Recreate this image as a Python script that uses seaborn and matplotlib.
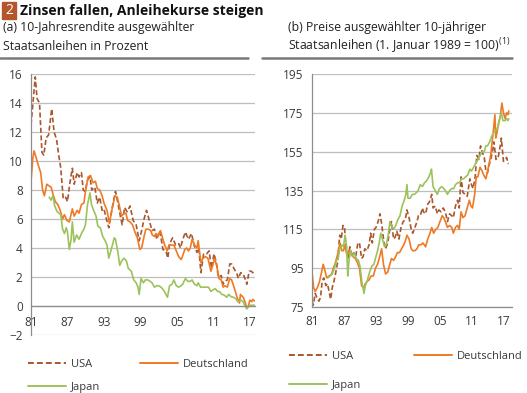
import pandas as pd
import matplotlib.pyplot as plt
import seaborn as sns
from matplotlib.lines import Line2D
from matplotlib.patches import Rectangle

sns.set_style("white")
plt.rcParams['font.family'] = ['Open Sans', 'DejaVu Sans']
plt.rcParams['mathtext.fontset'] = 'custom'
plt.rcParams['mathtext.rm'] = 'Open Sans'

# --- (a) Rendite 10-jaehriger Staatsanleihen, Prozent ---
usa_r_jahr = [1981.0, 1981.3, 1981.7, 1982.0, 1982.4, 1982.8, 1983.1, 1983.5, 1983.9, 1984.4,
              1984.8, 1985.2, 1985.6, 1985.9, 1986.3, 1986.7, 1987.0, 1987.4, 1987.8, 1988.1,
              1988.6, 1988.9, 1989.3, 1989.6, 1989.9, 1990.3, 1990.7, 1991.0, 1991.5, 1991.9,
              1992.3, 1992.7, 1993.0, 1993.4, 1993.8, 1994.2, 1994.6, 1994.9, 1995.3, 1995.7,
              1996.0, 1996.4, 1996.8, 1997.3, 1997.8, 1998.3, 1998.8, 1999.2, 1999.6, 2000.0,
              2000.4, 2000.9, 2001.3, 2001.7, 2002.2, 2002.7, 2003.2, 2003.5, 2003.8, 2004.3,
              2004.8, 2005.3, 2005.6, 2005.9, 2006.4, 2006.9, 2007.4, 2007.9, 2008.3, 2008.6,
              2008.95, 2009.4, 2009.9, 2010.3, 2010.7, 2011.1, 2011.5, 2011.8, 2012.3, 2012.6,
              2012.9, 2013.3, 2013.7, 2014.0, 2014.5, 2014.9, 2015.1, 2015.5, 2015.9, 2016.3,
              2016.5, 2016.9, 2017.2, 2017.5, 2017.75]
usa_r = [12.5, 13.9, 15.8, 14.3, 14.0, 10.6, 10.4, 11.6, 11.8, 13.6,
         12.0, 11.5, 10.3, 9.5, 7.4, 7.5, 7.2, 8.5, 9.5, 8.4,
         9.2, 8.9, 9.2, 8.0, 7.9, 8.7, 8.9, 8.0, 8.2, 7.1,
         7.5, 6.6, 6.7, 6.0, 5.4, 6.4, 7.3, 7.9, 7.1, 6.2,
         5.6, 6.8, 6.5, 6.9, 5.9, 5.6, 4.5, 5.2, 6.0, 6.6,
         6.0, 5.2, 5.3, 4.6, 5.2, 3.9, 3.8, 3.3, 4.3, 4.7,
         4.2, 4.3, 4.0, 4.5, 5.1, 4.6, 5.0, 4.1, 3.7, 4.0,
         2.3, 3.6, 3.6, 3.8, 2.6, 3.6, 3.0, 2.0, 2.1, 1.5,
         1.7, 1.8, 2.9, 2.9, 2.5, 2.2, 1.9, 2.3, 2.2, 1.8,
         1.5, 2.4, 2.4, 2.3, 2.2]

de_r_jahr = [1981.0, 1981.3, 1981.5, 1981.8, 1982.2, 1982.6, 1982.9, 1983.2, 1983.6, 1983.9,
             1984.3, 1984.7, 1985.0, 1985.4, 1985.8, 1986.2, 1986.5, 1986.9, 1987.3, 1987.8,
             1988.1, 1988.6, 1988.9, 1989.3, 1989.7, 1990.0, 1990.4, 1990.8, 1991.2, 1991.6,
             1991.9, 1992.3, 1992.7, 1993.0, 1993.5, 1993.9, 1994.3, 1994.8, 1995.2, 1995.6,
             1995.9, 1996.3, 1996.6, 1996.9, 1997.3, 1997.7, 1998.1, 1998.5, 1998.9, 1999.2,
             1999.6, 1999.9, 2000.3, 2000.7, 2000.95, 2001.3, 2001.6, 2001.9, 2002.3, 2002.7,
             2003.0, 2003.4, 2003.7, 2004.1, 2004.5, 2004.9, 2005.3, 2005.7, 2005.9, 2006.3,
             2006.6, 2006.9, 2007.2, 2007.5, 2007.9, 2008.3, 2008.5, 2008.95, 2009.3, 2009.7,
             2010.1, 2010.6, 2010.9, 2011.2, 2011.6, 2011.9, 2012.3, 2012.6, 2012.9, 2013.3,
             2013.7, 2014.0, 2014.4, 2014.9, 2015.3, 2015.45, 2015.9, 2016.2, 2016.5, 2016.8,
             2017.0, 2017.3, 2017.5, 2017.75]
de_r = [8.6, 10.2, 10.7, 10.3, 9.7, 9.2, 8.0, 7.6, 8.4, 8.3,
        8.2, 7.6, 7.2, 7.0, 6.6, 6.0, 6.3, 5.9, 5.8, 6.7,
        6.2, 6.6, 6.4, 7.0, 7.1, 8.0, 8.9, 9.0, 8.5, 8.6,
        8.1, 8.0, 7.6, 7.1, 6.6, 5.7, 6.6, 7.6, 7.5, 6.8,
        6.2, 6.4, 6.4, 5.9, 5.8, 5.6, 5.1, 4.7, 3.9, 4.0,
        4.8, 5.3, 5.3, 5.2, 4.9, 4.8, 5.0, 4.8, 5.2, 4.6,
        4.2, 3.8, 4.2, 4.2, 4.2, 3.8, 3.4, 3.2, 3.4, 3.9,
        4.0, 3.8, 4.0, 4.6, 4.2, 4.0, 4.5, 3.0, 3.3, 3.4,
        3.3, 2.4, 2.8, 3.3, 2.7, 1.9, 1.8, 1.3, 1.4, 1.3,
        1.9, 1.8, 1.3, 0.6, 0.2, 0.8, 0.6, 0.3, -0.15, 0.05,
        0.4, 0.3, 0.45, 0.35]

jp_r_jahr = [1984.0, 1984.3, 1984.6, 1984.9, 1985.3, 1985.6, 1985.9, 1986.2, 1986.5, 1986.8,
             1987.0, 1987.3, 1987.6, 1987.8, 1988.1, 1988.5, 1988.9, 1989.3, 1989.7, 1989.95,
             1990.3, 1990.7, 1990.95, 1991.3, 1991.7, 1992.0, 1992.4, 1992.8, 1993.2, 1993.5,
             1993.8, 1994.2, 1994.7, 1994.9, 1995.3, 1995.6, 1995.9, 1996.3, 1996.7, 1997.0,
             1997.5, 1997.9, 1998.3, 1998.6, 1998.8, 1999.1, 1999.5, 1999.8, 2000.2, 2000.6,
             2000.9, 2001.3, 2001.7, 2002.0, 2002.4, 2002.8, 2003.2, 2003.45, 2003.8, 2004.2,
             2004.5, 2004.9, 2005.3, 2005.7, 2005.95, 2006.4, 2006.8, 2007.2, 2007.5, 2007.9,
             2008.3, 2008.5, 2008.9, 2009.3, 2009.7, 2010.2, 2010.6, 2010.9, 2011.3, 2011.7,
             2012.0, 2012.4, 2012.8, 2013.2, 2013.5, 2013.9, 2014.3, 2014.7, 2015.0, 2015.5,
             2015.9, 2016.2, 2016.5, 2016.8, 2017.0, 2017.4, 2017.75]
jp_r = [7.5, 7.3, 7.6, 6.9, 6.5, 6.4, 6.3, 5.3, 5.0, 5.4,
        5.1, 3.9, 4.6, 5.8, 4.4, 4.9, 4.6, 5.0, 5.3, 5.6,
        7.0, 7.8, 7.0, 6.6, 6.2, 5.5, 5.4, 4.8, 4.5, 4.2,
        3.3, 3.9, 4.7, 4.6, 3.7, 2.8, 3.1, 3.3, 3.1, 2.6,
        2.4, 1.8, 1.6, 1.3, 0.8, 1.9, 1.6, 1.8, 1.8, 1.7,
        1.6, 1.3, 1.4, 1.4, 1.3, 1.1, 0.8, 0.6, 1.4, 1.5,
        1.8, 1.4, 1.3, 1.4, 1.5, 1.9, 1.7, 1.7, 1.8, 1.5,
        1.4, 1.6, 1.3, 1.3, 1.3, 1.3, 1.0, 1.1, 1.2, 1.0,
        1.0, 0.8, 0.75, 0.6, 0.8, 0.65, 0.6, 0.5, 0.3, 0.4,
        0.3, 0.0, -0.2, -0.05, 0.05, 0.05, 0.05]

# --- (b) Kursindex 10-jaehriger Staatsanleihen (1. Januar 1989 = 100) ---
usa_p_jahr = [1981.0, 1981.25, 1981.6, 1981.9, 1982.3, 1982.6, 1982.9, 1983.2, 1983.6, 1983.9,
              1984.2, 1984.5, 1984.8, 1985.1, 1985.4, 1985.8, 1986.2, 1986.5, 1986.8, 1987.1,
              1987.4, 1987.8, 1988.1, 1988.5, 1988.8, 1989.2, 1989.6, 1989.9, 1990.3, 1990.6,
              1990.9, 1991.3, 1991.7, 1992.0, 1992.3, 1992.7, 1993.0, 1993.4, 1993.75, 1994.1,
              1994.5, 1994.8, 1995.2, 1995.6, 1995.9, 1996.3, 1996.6, 1996.9, 1997.3, 1997.7,
              1998.1, 1998.5, 1998.8, 1999.2, 1999.6, 1999.9, 2000.3, 2000.7, 2000.95, 2001.3,
              2001.7, 2001.9, 2002.3, 2002.7, 2003.0, 2003.45, 2003.7, 2004.1, 2004.5, 2004.8,
              2005.2, 2005.6, 2006.0, 2006.4, 2006.8, 2007.2, 2007.5, 2007.9, 2008.3, 2008.6,
              2008.95, 2009.3, 2009.7, 2010.1, 2010.6, 2010.9, 2011.2, 2011.6, 2011.9, 2012.3,
              2012.6, 2012.9, 2013.3, 2013.6, 2013.9, 2014.2, 2014.6, 2014.9, 2015.1, 2015.5,
              2015.9, 2016.3, 2016.5, 2016.9, 2017.2, 2017.5, 2017.75, 2017.9]
usa_p = [78, 76, 82, 80, 78, 80, 88, 90, 86, 87,
         83, 79, 85, 88, 92, 98, 112, 110, 117, 116,
         104, 100, 106, 101, 103, 101, 108, 108, 100, 101,
         105, 104, 107, 113, 108, 115, 116, 119, 123, 117,
         108, 105, 108, 115, 119, 110, 111, 114, 110, 116,
         119, 120, 125, 121, 115, 113, 116, 119, 122, 122,
         126, 124, 123, 128, 129, 133, 126, 127, 123, 125,
         124, 126, 124, 119, 123, 122, 121, 127, 130, 126,
         142, 134, 133, 132, 141, 138, 136, 142, 153, 151,
         158, 155, 152, 145, 144, 148, 152, 156, 160, 151,
         152, 158, 162, 150, 151, 152, 149, 149]

de_p_jahr = [1981.0, 1981.3, 1981.6, 1982.0, 1982.4, 1982.8, 1983.1, 1983.4, 1983.75, 1984.2,
             1984.7, 1985.0, 1985.3, 1985.8, 1986.25, 1986.6, 1986.9, 1987.2, 1987.6, 1987.9,
             1988.3, 1988.7, 1989.1, 1989.5, 1989.9, 1990.3, 1990.7, 1991.0, 1991.3, 1991.7,
             1992.1, 1992.5, 1992.9, 1993.3, 1993.7, 1994.05, 1994.4, 1994.8, 1995.2, 1995.6,
             1995.9, 1996.3, 1996.7, 1997.0, 1997.4, 1997.8, 1998.2, 1998.5, 1998.8, 1999.2,
             1999.6, 1999.9, 2000.3, 2000.7, 2001.0, 2001.4, 2001.8, 2002.3, 2002.7, 2003.0,
             2003.45, 2003.8, 2004.2, 2004.6, 2005.0, 2005.4, 2005.7, 2006.0, 2006.4, 2006.8,
             2007.2, 2007.5, 2007.9, 2008.3, 2008.6, 2008.95, 2009.3, 2009.7, 2010.0, 2010.5,
             2010.8, 2011.1, 2011.5, 2011.8, 2012.1, 2012.5, 2012.9, 2013.2, 2013.6, 2014.0,
             2014.5, 2014.9, 2015.3, 2015.45, 2015.7, 2016.0, 2016.3, 2016.6, 2016.9, 2017.2,
             2017.5, 2017.75, 2017.9]
de_p = [93, 85, 83, 85, 88, 93, 97, 94, 90, 91,
        92, 95, 97, 102, 108, 104, 104, 107, 101, 104,
        102, 101, 100, 98, 95, 86, 85, 87, 88, 89,
        91, 91, 95, 97, 101, 105, 97, 92, 93, 97,
        100, 99, 101, 103, 103, 105, 107, 109, 112, 110,
        105, 104, 104, 105, 107, 107, 108, 106, 110, 112,
        116, 113, 115, 116, 119, 122, 121, 119, 116, 117,
        116, 113, 116, 117, 115, 124, 121, 122, 125, 130,
        127, 126, 133, 142, 142, 147, 145, 143, 141, 146,
        153, 163, 174, 162, 165, 170, 173, 180, 175, 172,
        175, 174, 176]

jp_p_jahr = [1984.0, 1984.4, 1984.8, 1985.2, 1985.6, 1985.9, 1986.2, 1986.6, 1986.9, 1987.2,
             1987.5, 1987.7, 1987.9, 1988.2, 1988.6, 1988.9, 1989.3, 1989.7, 1990.0, 1990.4,
             1990.75, 1991.0, 1991.4, 1991.8, 1992.2, 1992.6, 1992.9, 1993.3, 1993.6, 1993.9,
             1994.2, 1994.6, 1994.9, 1995.3, 1995.6, 1995.9, 1996.3, 1996.7, 1997.1, 1997.5,
             1997.9, 1998.3, 1998.6, 1998.8, 1999.0, 1999.4, 1999.8, 2000.2, 2000.6, 2000.9,
             2001.3, 2001.7, 2002.1, 2002.5, 2002.9, 2003.2, 2003.4, 2003.7, 2004.1, 2004.5,
             2004.9, 2005.3, 2005.7, 2006.0, 2006.4, 2006.8, 2007.2, 2007.6, 2007.9, 2008.3,
             2008.7, 2009.0, 2009.4, 2009.8, 2010.2, 2010.6, 2010.9, 2011.3, 2011.7, 2012.1,
             2012.5, 2012.9, 2013.3, 2013.6, 2013.9, 2014.3, 2014.7, 2015.1, 2015.5, 2015.9,
             2016.2, 2016.5, 2016.8, 2017.2, 2017.5, 2017.75, 2017.9]
jp_p = [90, 91, 92, 95, 99, 100, 105, 107, 106, 112,
        106, 91, 98, 104, 101, 103, 100, 99, 96, 87,
        82, 86, 89, 93, 96, 97, 100, 104, 108, 113,
        110, 106, 107, 112, 119, 117, 115, 117, 120, 122,
        127, 130, 133, 138, 131, 131, 133, 133, 134, 135,
        138, 137, 139, 140, 142, 144, 146, 137, 135, 133,
        136, 137, 136, 135, 133, 135, 136, 136, 138, 139,
        139, 141, 141, 142, 143, 146, 145, 147, 149, 151,
        153, 155, 155, 158, 158, 160, 163, 165, 166, 168,
        172, 175, 171, 171, 172, 171, 172]

laender = ["USA", "Deutschland", "Japan"]
farben = {"USA": "#A9572C", "Deutschland": "#EE7A26", "Japan": "#9CC25C"}
striche = {"USA": (3, 1.6), "Deutschland": "", "Japan": ""}


def long_df(serien):
    teile = []
    for land, (x, y) in zip(laender, serien):
        teile.append(pd.DataFrame({"Jahr": x, "Wert": y, "Land": land}))
    return pd.concat(teile, ignore_index=True)


df_rendite = long_df([(usa_r_jahr, usa_r), (de_r_jahr, de_r), (jp_r_jahr, jp_r)])
df_preis = long_df([(usa_p_jahr, usa_p), (de_p_jahr, de_p), (jp_p_jahr, jp_p)])

jahre_ticks = [1981, 1987, 1993, 1999, 2005, 2011, 2017]
jahre_labels = ["81", "87", "93", "99", "05", "11", "17"]

W, H = 527, 393
fig = plt.figure(figsize=(W / 100, H / 100), dpi=100)

def px(x0, y0, x1, y1):
    return [x0 / W, 1 - y1 / H, (x1 - x0) / W, (y1 - y0) / H]

ax1 = fig.add_axes(px(31, 74, 255, 335))
ax2 = fig.add_axes(px(312, 74, 512, 307))

grid_col = "#BEBEBE"
spine_col = "#8C8C8C"
text_col = "#3A3A3A"

for ax, d in [(ax1, df_rendite), (ax2, df_preis)]:
    sns.lineplot(data=d, x="Jahr", y="Wert", hue="Land", style="Land",
                 palette=farben, dashes=striche, linewidth=1.2,
                 legend=False, ax=ax)
    ax.set_xlabel("")
    ax.set_ylabel("")
    ax.set_xticks(jahre_ticks)
    ax.set_xticklabels(jahre_labels)
    ax.yaxis.grid(True, color=grid_col, linewidth=0.9)
    ax.set_axisbelow(True)
    for s in ["top", "right"]:
        ax.spines[s].set_visible(False)
    for s in ["left", "bottom"]:
        ax.spines[s].set_color(spine_col)
        ax.spines[s].set_linewidth(0.9)
    ax.tick_params(axis="both", colors=spine_col, labelcolor=text_col,
                   labelsize=8.5, length=3, width=0.8, pad=3)
    ax.set_facecolor("none")

ax1.set_xlim(1981, 2017.85)
ax1.set_ylim(-2, 16)
ax1.set_yticks(range(-2, 17, 2))
ax1.spines["bottom"].set_position(("data", 0))
ax1.tick_params(axis="x", pad=4)

ax2.set_xlim(1981, 2018.5)
ax2.set_ylim(75, 195)
ax2.set_yticks(range(75, 196, 20))

# Titel
fig.patches.append(Rectangle((2 / W, 1 - 19 / H), 14 / W, 17 / H,
                             transform=fig.transFigure, color="#B4552B"))
fig.text(9 / W, 1 - 10.5 / H, "2", color="white", fontsize=10, ha="center", va="center")
fig.text(20 / W, 1 - 10.5 / H, "Zinsen fallen, Anleihekurse steigen", fontsize=10,
         fontweight="bold", color="#111111", va="center")
fig.text(3 / W, 1 - 28 / H, "(a) 10-Jahresrendite ausgewählter", fontsize=8.8,
         color="#222222", va="center")
fig.text(3 / W, 1 - 46 / H, "Staatsanleihen in Prozent", fontsize=8.8,
         color="#222222", va="center")
fig.text(288 / W, 1 - 28 / H, "(b) Preise ausgewählter 10-jähriger", fontsize=8.8,
         color="#222222", va="center")
fig.text(288 / W, 1 - 46 / H, r"Staatsanleihen (1. Januar 1989 = 100)$^{\mathrm{(1)}}$",
         fontsize=8.8, color="#222222", va="center")
for x0, x1 in [(0, 248), (262, 512)]:
    fig.add_artist(Line2D([x0 / W, x1 / W], [1 - 58 / H, 1 - 58 / H],
                          transform=fig.transFigure, color="#7A7A7A", linewidth=1.8))

# Legenden
def handles():
    return [Line2D([], [], color=farben[l], linewidth=1.4,
                   linestyle=(0, striche[l]) if striche[l] else "-") for l in laender]

leg_order = [0, 2, 1]
for anchor, spacing, colsp in [((18 / W, 1 - 349 / H), 1.05, 3.6),
                               ((279 / W, 1 - 341 / H), 1.65, 4.8)]:
    h = handles()
    fig.legend([h[i] for i in leg_order], [laender[i] for i in leg_order],
               loc="upper left", bbox_to_anchor=anchor, ncol=2, frameon=False,
               fontsize=8, handlelength=3.4, handletextpad=0.45,
               columnspacing=colsp, labelspacing=spacing, labelcolor=text_col)

fig.savefig("out.png", dpi=100)
